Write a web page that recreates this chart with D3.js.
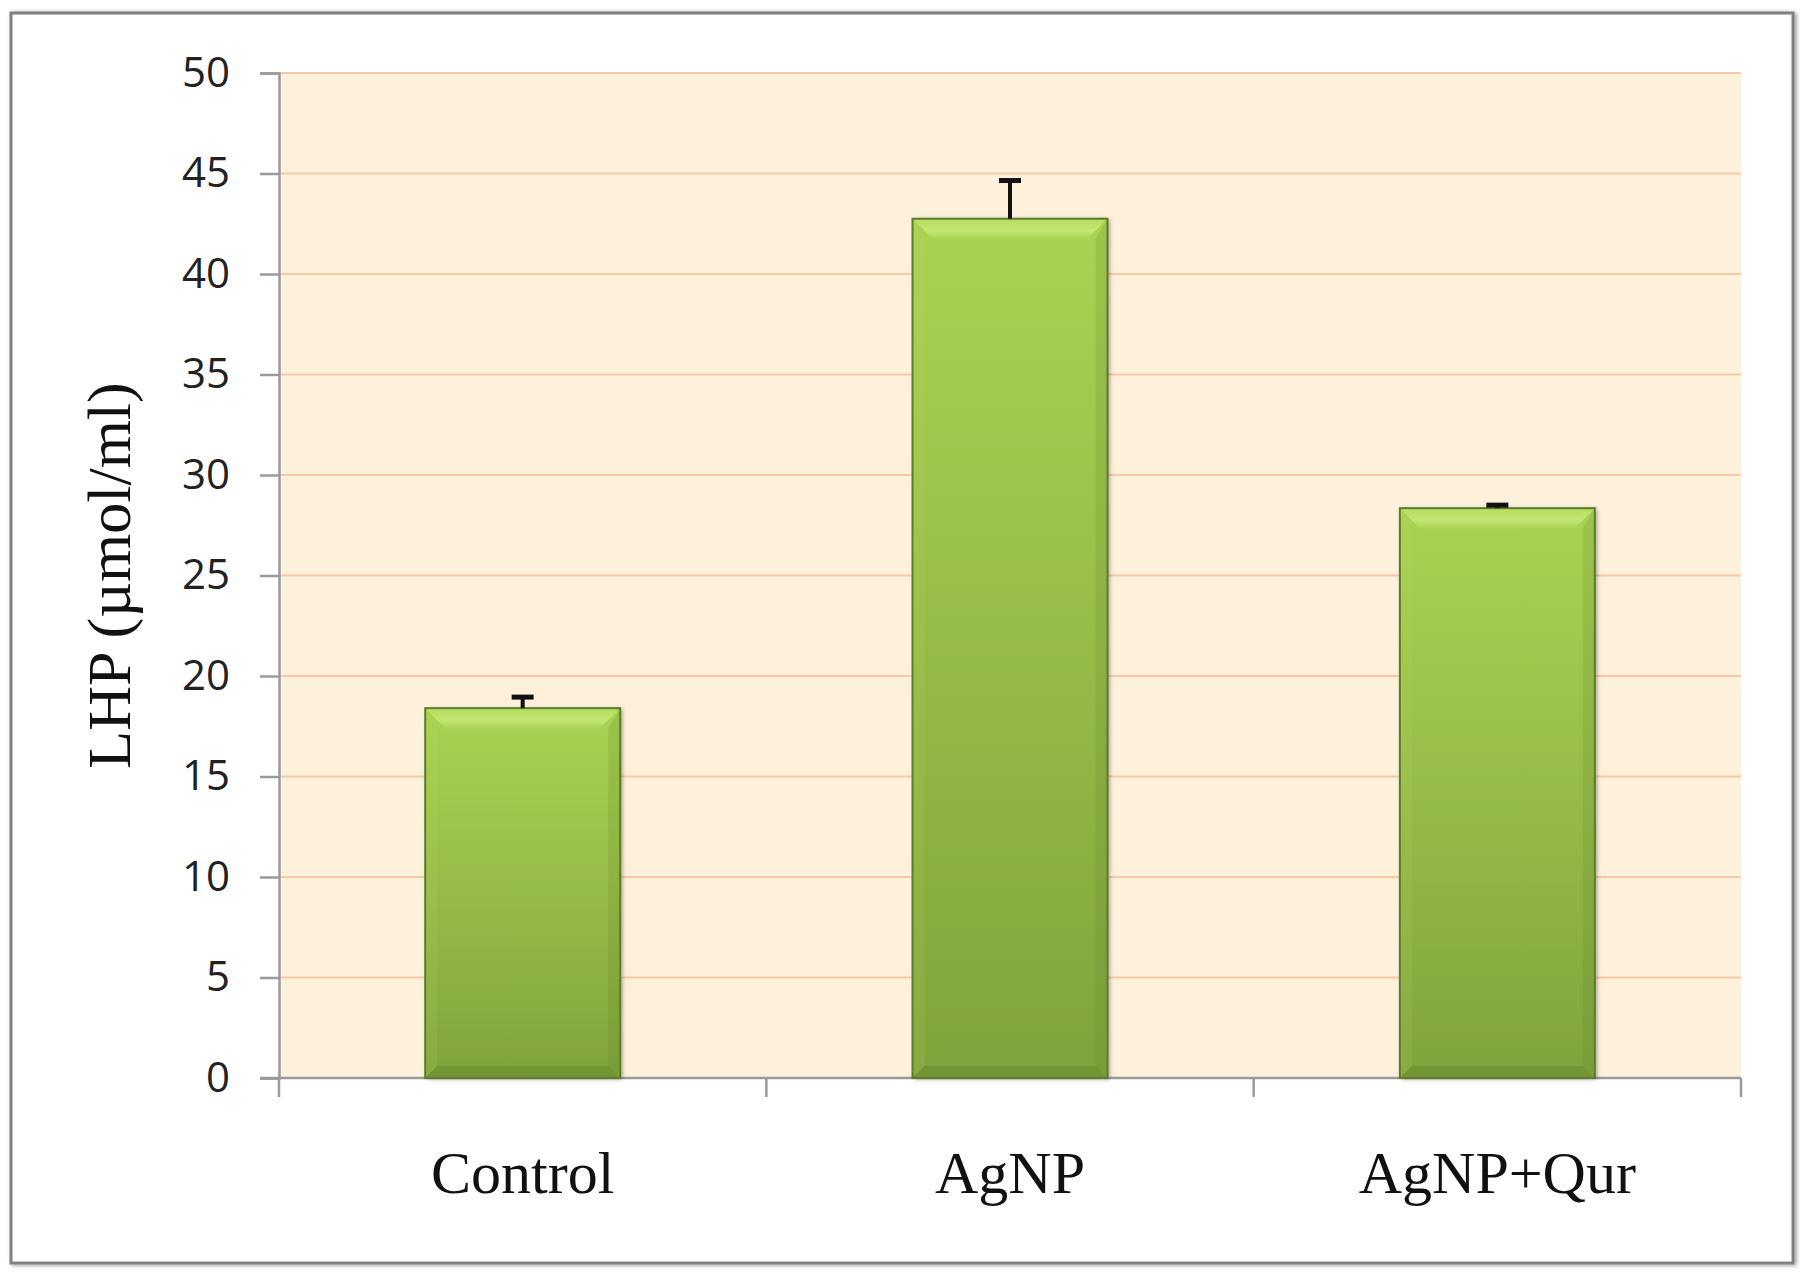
<!DOCTYPE html>
<html><head><meta charset="utf-8">
<script src="https://cdn.jsdelivr.net/npm/d3@7"></script>
<style>html,body{margin:0;padding:0;background:#fff;}svg{display:block;}</style>
</head><body>
<script>
const categories = ["Control", "AgNP", "AgNP+Qur"];
const values = [18.4, 42.75, 28.35];
const errors = [0.55, 1.9, 0.15];
const yTicks = [0, 5, 10, 15, 20, 25, 30, 35, 40, 45, 50];
const yTitle = "LHP (\u00b5mol/ml)";

const W = 1800, H = 1274;
const plot = {left: 279, right: 1741, top: 73, bottom: 1078};

const svg = d3.select("body").append("svg").attr("width", W).attr("height", H);
const defs = svg.append("defs");

const g1 = defs.append("linearGradient").attr("id", "barGrad").attr("x1", 0).attr("y1", 0).attr("x2", 0).attr("y2", 1);
g1.append("stop").attr("offset", "0%").attr("stop-color", "#a9d352");
g1.append("stop").attr("offset", "55%").attr("stop-color", "#94b946");
g1.append("stop").attr("offset", "100%").attr("stop-color", "#7fa33c");

const gTop = defs.append("linearGradient").attr("id", "topGrad").attr("x1", 0).attr("y1", 0).attr("x2", 0).attr("y2", 1);
gTop.append("stop").attr("offset", "0%").attr("stop-color", "#b6dc5e");
gTop.append("stop").attr("offset", "60%").attr("stop-color", "#c4e673");
gTop.append("stop").attr("offset", "100%").attr("stop-color", "#aad454");

const shadow = defs.append("filter").attr("id", "shadow").attr("x", "-10%").attr("y", "-10%").attr("width", "130%").attr("height", "130%");
shadow.append("feGaussianBlur").attr("in", "SourceAlpha").attr("stdDeviation", 2);
shadow.append("feOffset").attr("dx", 2).attr("dy", 1).attr("result", "ob");
shadow.append("feComponentTransfer").append("feFuncA").attr("type", "linear").attr("slope", 0.4);
const mrg = shadow.append("feMerge");
mrg.append("feMergeNode");
mrg.append("feMergeNode").attr("in", "SourceGraphic");

// outer frame
svg.append("rect").attr("x", 11).attr("y", 13).attr("width", 1782).attr("height", 1250)
  .attr("fill", "#fff").attr("stroke", "#808080").attr("stroke-width", 3).attr("filter", "url(#shadow)");

const x = d3.scaleBand().domain(categories).range([plot.left, plot.right]).paddingInner(0.6).paddingOuter(0.3);
const y = d3.scaleLinear().domain([0, 50]).range([plot.bottom, plot.top]);

// plot background
svg.append("rect").attr("x", plot.left).attr("y", plot.top).attr("width", plot.right - plot.left).attr("height", plot.bottom - plot.top)
  .attr("fill", "#fdf1dc");

// gridlines
svg.append("g").selectAll("line").data(yTicks.filter(d => d > 0)).join("line")
  .attr("x1", plot.left).attr("x2", plot.right)
  .attr("y1", d => y(d)).attr("y2", d => y(d))
  .attr("stroke", "#f6c9a6").attr("stroke-width", 2);

// y axis
const yAxis = d3.axisLeft(y).tickValues(yTicks).tickSize(19).tickPadding(30).tickFormat(d3.format("d"));
const ya = svg.append("g").attr("transform", `translate(${plot.left},0)`).call(yAxis);
ya.select(".domain").attr("stroke", "#9a9a9a").attr("stroke-width", 2.5);
ya.selectAll(".tick line").attr("stroke", "#9a9a9a").attr("stroke-width", 2.5);
ya.selectAll(".tick text").attr("font-family", "'Open Sans', sans-serif").attr("font-size", 42).attr("fill", "#222");

// x axis line + category separator ticks
const sepPos = [plot.left].concat(categories.map(c => x(c) + x.bandwidth() / 2 + x.step() / 2));
svg.append("line").attr("x1", plot.left - 19).attr("x2", plot.right).attr("y1", plot.bottom).attr("y2", plot.bottom)
  .attr("stroke", "#9a9a9a").attr("stroke-width", 2.5);
svg.append("g").selectAll("line").data(sepPos).join("line")
  .attr("x1", d => d).attr("x2", d => d).attr("y1", plot.bottom).attr("y2", plot.bottom + 19)
  .attr("stroke", "#9a9a9a").attr("stroke-width", 2.5);

// category labels
svg.append("g").selectAll("text").data(categories).join("text")
  .attr("x", d => x(d) + x.bandwidth() / 2).attr("y", 1193)
  .attr("text-anchor", "middle").attr("font-family", "'Liberation Serif', 'Times New Roman', serif")
  .attr("font-size", 60).attr("fill", "#111").text(d => d);

// y title
svg.append("text").attr("transform", `translate(130,${(plot.top + plot.bottom) / 2}) rotate(-90)`)
  .attr("text-anchor", "middle").attr("font-family", "'Liberation Serif', 'Times New Roman', serif")
  .attr("font-size", 62).attr("fill", "#111").text(yTitle);

// bars with bevel
const bev = 20, sb = 12;
const bars = svg.append("g").selectAll("g").data(categories.map((c, i) => ({c, v: values[i], e: errors[i]}))).join("g");
bars.each(function(d) {
  const gg = d3.select(this);
  const x0 = x(d.c), x1 = x(d.c) + x.bandwidth(), y0 = y(d.v), y1 = y(0);
  gg.append("rect").attr("x", x0).attr("y", y0).attr("width", x1 - x0).attr("height", y1 - y0)
    .attr("fill", "url(#barGrad)").attr("filter", "url(#shadow)");
  // left bevel
  gg.append("path").attr("d", `M${x0},${y0}L${x0 + sb},${y0 + bev}L${x0 + sb},${y1 - sb}L${x0},${y1}Z`)
    .attr("fill", "#b5d862").attr("opacity", 0.15);
  // right bevel
  gg.append("path").attr("d", `M${x1},${y0}L${x1 - sb},${y0 + bev}L${x1 - sb},${y1 - sb}L${x1},${y1}Z`)
    .attr("fill", "#5f7e28").attr("opacity", 0.18);
  // bottom bevel
  gg.append("path").attr("d", `M${x0},${y1}L${x0 + sb},${y1 - sb}L${x1 - sb},${y1 - sb}L${x1},${y1}Z`)
    .attr("fill", "#56731f").attr("opacity", 0.3);
  // top bevel
  gg.append("path").attr("d", `M${x0},${y0}L${x1},${y0}L${x1 - bev},${y0 + bev}L${x0 + bev},${y0 + bev}Z`)
    .attr("fill", "url(#topGrad)");
  gg.append("rect").attr("x", x0).attr("y", y0).attr("width", x1 - x0).attr("height", y1 - y0)
    .attr("fill", "none").attr("stroke", "#5e7d2a").attr("stroke-width", 2);
  // error bar
  const cx = x0 + (x1 - x0) / 2;
  gg.append("line").attr("x1", cx).attr("x2", cx).attr("y1", y0).attr("y2", y(d.v + d.e))
    .attr("stroke", "#111").attr("stroke-width", 4);
  gg.append("line").attr("x1", cx - 11).attr("x2", cx + 11).attr("y1", y(d.v + d.e)).attr("y2", y(d.v + d.e))
    .attr("stroke", "#111").attr("stroke-width", 5);
});
</script>
</body></html>
